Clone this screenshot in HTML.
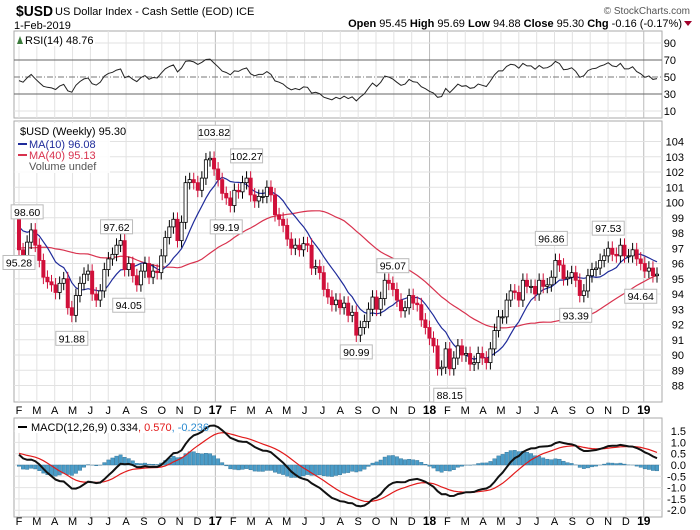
<!DOCTYPE html>
<html><head><meta charset="utf-8"><style>
body{margin:0;background:#fff;}
svg{display:block;font-family:"Liberation Sans",sans-serif;}
</style></head><body>
<svg id="c" width="700" height="530" xmlns="http://www.w3.org/2000/svg">
<text x="16" y="16" font-size="15" font-weight="bold" textLength="37" lengthAdjust="spacingAndGlyphs">$USD</text>
<text x="55" y="15" font-size="11">US Dollar Index - Cash Settle (EOD) ICE</text>
<text x="14" y="29" font-size="11">1-Feb-2019</text>
<text x="690" y="14" font-size="10" fill="#555" text-anchor="end">© StockCharts.com</text>
<text x="682" y="27" font-size="11" text-anchor="end"><tspan font-weight="bold">Open</tspan> 95.45 <tspan font-weight="bold">High</tspan> 95.69 <tspan font-weight="bold">Low</tspan> 94.88 <tspan font-weight="bold">Close</tspan> 95.30 <tspan font-weight="bold">Chg</tspan> -0.16 (-0.17%)</text>
<polygon points="684,21 692,21 688,26" fill="#a0002a"/>
<g id="g"></g>
</svg>
<script>
// ---- data (weekly closes, estimated) ----
const preCloses=[97,95.5,97,98.5,97,95.5,94.5,95,96,97,96,97,96.2,95.2,96.5,96,95.3,96,97,97.3,97,96.2,96.3,95.5,96,95.4,96.2,97.2,98.8,99.2,99.8,99.3,98.2,97.5,98.2,98.3,99,98.6,99.2,98.9];
const closes=[
96.9,96.5,97.4,98.2, 97.2,96.2,95.1,94.8, 94.6,94.1,94.7,95.0,93.1, 92.6,93.9,94.7,95.3,
95.5,94.0,93.6,94.2,95.6, 96.3,96.6,97.2,97.5, 95.6,96.0,95.2,94.6,95.5, 96.0,95.1,95.5,95.4,
96.5,97.7,98.4,98.9, 97.5,98.7,101.3,101.5,101.3, 100.8,101.6,102.8,102.9,
102.2,101.5,100.6,100.3, 99.8,100.8,100.7,101.3, 101.6,100.5,100.1,100.4,100.4,
101.0,100.5,99.2,98.9, 98.5,97.6,97.0,97.2, 96.9,97.3,97.2,95.7,
95.8,95.4,94.3,93.8,93.3, 93.6,93.1,93.4,92.6, 92.8,91.3,91.8,92.2,93.0,
93.8,93.0,93.7,94.9, 94.7,94.3,93.6,92.9, 93.1,93.9,93.4,93.3,92.3,
91.8,91.1,90.6,89.1, 89.2,90.4,89.1,89.8,90.6, 90.0,90.1,89.4,89.5,
90.1,89.8,89.5,90.4,91.6, 92.5,92.5,93.6,94.2, 94.1,93.6,94.9,94.5,94.5,
94.0,94.9,94.5,94.6, 95.1,96.2,95.9,95.0,95.1, 95.4,94.9,93.9,94.2,
95.2,95.6,95.7,96.2, 96.5,97.0,96.6,96.5,97.2, 96.5,96.5,96.9,96.3,
96.0,95.5,95.7,95.2,95.3];
const firstOpen=99.3;
const calloutIdx=[2,0,13,24,27,48,51,56,83,92,106,131,145,137,153];
const calloutVal=["98.60","95.28","91.88","97.62","94.05","103.82","99.19","102.27","90.99","95.07","88.15","96.86","97.53","93.39","94.64"];
const calloutUp=[1,1,0,1,0,1,0,1,0,1,0,1,1,0,0];
const monthLabels=["F","M","A","M","J","J","A","S","O","N","D","17","F","M","A","M","J","J","A","S","O","N","D","18","F","M","A","M","J","J","A","S","O","N","D","19"];
const priceTicks=[88,89,90,91,92,93,94,95,96,97,98,99,100,101,102,103,104];
const rsiTicks=[10,30,50,70,90];
const macdTicks=[-2.0,-1.5,-1.0,-0.5,0.0,0.5,1.0,1.5];

const NS="http://www.w3.org/2000/svg",G=document.getElementById('g');
function el(t,a,p){const e=document.createElementNS(NS,t);for(const k in a)e.setAttribute(k,a[k]);(p||G).appendChild(e);return e;}
const L=14,R=662,X0=19,X1=657,N=closes.length;
const xs=i=>X0+i*(X1-X0)/(N-1);
const yP=v=>141.5+(104-v)*15.25;
const yR=v=>77-(v-50)*0.85;
const yM=v=>465-v*22.6;
const all=preCloses.concat(closes),P=preCloses.length;
function sma(n,i){let s=0;for(let k=i-n+1;k<=i;k++)s+=all[k];return s/n;}
function ema(arr,n){const a=2/(n+1);let r=[arr[0]];for(let i=1;i<arr.length;i++)r.push(arr[i]*a+r[i-1]*(1-a));return r;}
const e12=ema(all,12),e26=ema(all,26),macd=all.map((v,i)=>e12[i]-e26[i]),sig=ema(macd,9);
let ag=0,al=0;const rsi=[];
for(let i=1;i<all.length;i++){const d=all[i]-all[i-1],g=Math.max(d,0),l=Math.max(-d,0);ag=(ag*13+g)/14;al=(al*13+l)/14;rsi[i]=al==0?100:100-100/(1+ag/al);}
function panel(y0,y1,name){el('rect',{x:L,y:y0,width:R-L,height:y1-y0,fill:'#fff',stroke:'#aaa'});}
panel(31,118,'rsi-panel');panel(121,402,'price-panel');panel(418,517,'macd-panel');
monthLabels.forEach((m,i)=>{const x=19+i*17.85;const yr=/\d/.test(m);
 [[31,118],[121,402],[418,517]].forEach(r=>{el('line',{x1:x,x2:x,y1:r[0],y2:r[1],stroke:yr?'#bbb':'#e2e2e2'});});
 [410,521].forEach(yy=>{const t=el('text',{x:x,y:yy+4,'font-size':yr?12:11,'font-weight':yr?'bold':'normal','text-anchor':'middle'});t.textContent=m;
 
 });});
priceTicks.forEach(v=>{el('line',{x1:L,x2:R,y1:yP(v),y2:yP(v),stroke:'#e2e2e2'});const t=el('text',{x:684,y:yP(v)+4,'font-size':11,'text-anchor':'end'});t.textContent=v;
 
 });
rsiTicks.forEach(v=>{const s=v==70||v==30;el('line',{x1:L,x2:R,y1:yR(v),y2:yR(v),stroke:s?'#666':(v==50?'#777':'#e2e2e2'),'stroke-dasharray':v==50?'6,2,1,2':''});const t=el('text',{x:676,y:yR(v)+4,'font-size':11,'text-anchor':'end'});t.textContent=v;
 
 });
macdTicks.forEach(v=>{el('line',{x1:L,x2:R,y1:yM(v),y2:yM(v),stroke:'#e2e2e2'});const t=el('text',{x:686,y:yM(v)+4,'font-size':11,'text-anchor':'end'});t.textContent=v.toFixed(1);
 
 });
let d='';for(let i=0;i<N;i++)d+=(i?'L':'M')+xs(i).toFixed(1)+','+yR(rsi[P+i]).toFixed(1);
const rl=el('path',{d:d,fill:'none',stroke:'#222','stroke-width':1});


function maPath(n,col,name){let d='';for(let i=0;i<N;i++)d+=(i?'L':'M')+xs(i).toFixed(1)+','+yP(sma(n,P+i)).toFixed(1);const p=el('path',{d:d,fill:'none',stroke:col,'stroke-width':1.2});}
maPath(40,'#d8324e','ma40-line');maPath(10,'#1f2b9a','ma10-line');
for(let i=0;i<N;i++){const o=i?closes[i-1]:firstOpen,c=closes[i],hi=Math.max(o,c)+0.45,lo=Math.min(o,c)-0.45,x=xs(i),up=c>=o,col=up?'#000':'#d0103a';
 el('line',{x1:x,x2:x,y1:yP(hi),y2:yP(lo),stroke:col});
 const r=el('rect',{x:x-1.6,y:yP(Math.max(o,c)),width:3.2,height:Math.max(1,Math.abs(yP(o)-yP(c))),fill:up?'#fff':col,stroke:col,'stroke-width':0.8});
 
 }
calloutIdx.forEach((ix,k)=>{const x=xs(ix),v=parseFloat(calloutVal[k]),yy=calloutUp[k]?yP(v)-12:yP(v)+12;
 const gg=el('g',{});
 el('rect',{x:x-16,y:yy-7,width:32,height:14,fill:'#fff',stroke:'#bbb'},gg);
 const t=el('text',{x:x,y:yy+4,'font-size':10.5,'text-anchor':'middle'},gg);t.textContent=calloutVal[k];});
const bw=(X1-X0)/(N-1)-0.6;
for(let i=0;i<N;i++){const h=macd[P+i]-sig[P+i],x=xs(i);const r=el('rect',{x:x-bw/2,y:Math.min(yM(h),yM(0)),width:bw,height:Math.abs(yM(h)-yM(0)),fill:'#4a9cc8',stroke:'#2b6d92','stroke-width':0.4});
 
 }
function lineArr(arr,col,w,name){let d='';for(let i=0;i<N;i++)d+=(i?'L':'M')+xs(i).toFixed(1)+','+Math.max(418,Math.min(517,yM(arr[P+i]))).toFixed(1);const p=el('path',{d:d,fill:'none',stroke:col,'stroke-width':w});}
lineArr(sig,'#e21a1a',1.2,'macd-signal-line');lineArr(macd,'#111',2,'macd-line');
function txt(x,y,s,col,name,sz){const t=el('text',{x:x,y:y,'font-size':sz||11,fill:col||'#000'});t.textContent=s;return t;}
el('rect',{x:15,y:32,width:80,height:14,fill:'#fff'});
el('path',{d:'M17,44 L20,36 L23,44 Z',fill:'#3a7a3a'});
txt(25,44,'RSI(14) 48.76','#000','rsi-legend');
el('rect',{x:15,y:123,width:95,height:50,fill:'#fff',opacity:0.85});
txt(20,135,'$USD (Weekly) 95.30','#000','price-legend');
el('line',{x1:18,x2:27,y1:144,y2:144,stroke:'#1f2b9a','stroke-width':2});txt(29,148,'MA(10) 96.08','#1f2b9a','ma10-legend');
el('line',{x1:18,x2:27,y1:155,y2:155,stroke:'#d8324e','stroke-width':2});txt(29,159,'MA(40) 95.13','#d8324e','ma40-legend');
txt(29,170,'Volume undef','#555','volume-legend');
el('rect',{x:15,y:419,width:170,height:14,fill:'#fff'});
el('line',{x1:18,x2:27,y1:427,y2:427,stroke:'#000','stroke-width':2});
const mt=txt(31,431,'MACD(12,26,9) 0.334','#000','macd-legend');
const s1=el('tspan',{fill:'#e21a1a'},mt);s1.textContent=', 0.570';
const s2=el('tspan',{fill:'#2a8ad0'},mt);s2.textContent=', -0.236';
</script>
</body></html>
